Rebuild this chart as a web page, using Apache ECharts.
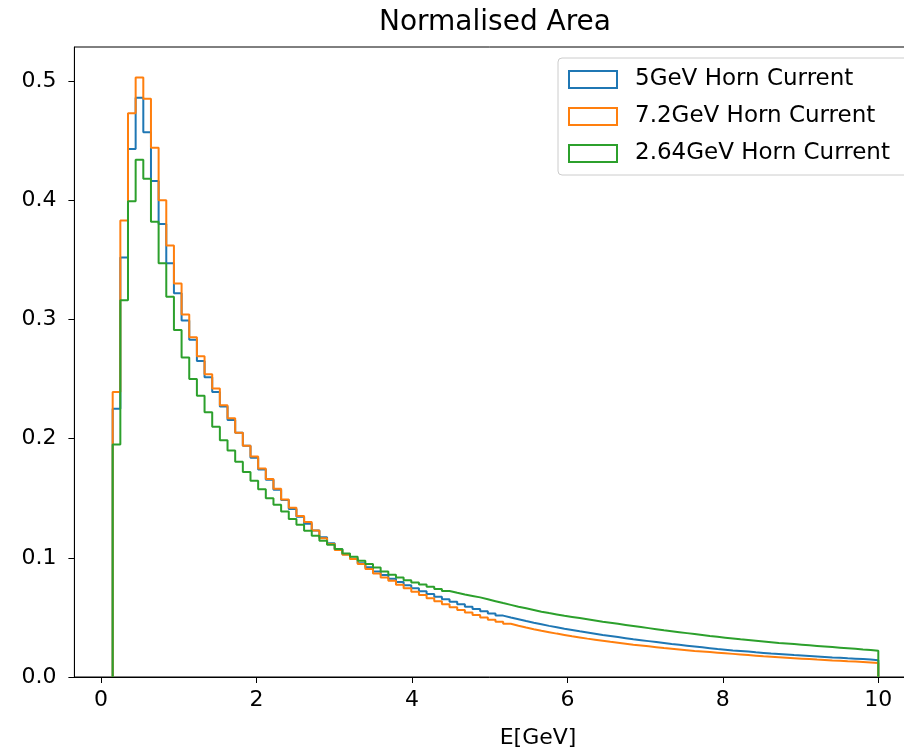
<!DOCTYPE html>
<html>
<head>
<meta charset="utf-8">
<script src="https://cdn.jsdelivr.net/npm/echarts@6/dist/echarts.min.js"></script>
<style>
  html, body { margin: 0; padding: 0; background: #fff; }
  #chart { width: 904px; height: 753px; }
</style>
</head>
<body>
<div id="chart"></div>
<script>
// Histogram binning (100 equal bins between first and last edge)
const binStart = 0.15;
const binEnd = 10.0;

const seriesNames = ["5GeV Horn Current", "7.2GeV Horn Current", "2.64GeV Horn Current"];
const seriesColors = ["#1f77b4", "#ff7f0e", "#2ca02c"];

const values5GeV = [
  0.225, 0.352, 0.443, 0.486, 0.457, 0.416, 0.380, 0.347, 0.322, 0.299,
  0.283, 0.265, 0.2515, 0.239, 0.227, 0.2155, 0.205, 0.194, 0.184, 0.174,
  0.1655, 0.157, 0.1485, 0.1410, 0.1345, 0.1285, 0.1228, 0.1172, 0.1122, 0.1072,
  0.1030, 0.0992, 0.0955, 0.0920, 0.0885, 0.0855, 0.0825, 0.0797, 0.0770, 0.0745,
  0.0720, 0.0697, 0.0674, 0.0652, 0.0631, 0.0610, 0.0590, 0.0570, 0.0551, 0.0533,
  0.0515, 0.0499, 0.0484, 0.0469, 0.0455, 0.0442, 0.0429, 0.0417, 0.0405, 0.0394,
  0.0383, 0.0373, 0.0363, 0.0353, 0.0344, 0.0335, 0.0326, 0.0317, 0.0309, 0.0301,
  0.0293, 0.0285, 0.0277, 0.0270, 0.0263, 0.0256, 0.0249, 0.0242, 0.0235, 0.0229,
  0.0223, 0.0218, 0.0213, 0.0207, 0.0202, 0.0197, 0.0193, 0.0189, 0.0184, 0.0180,
  0.0176, 0.0172, 0.0168, 0.0164, 0.0161, 0.0157, 0.0154, 0.0150, 0.0146, 0.0141
];

const values7_2GeV = [
  0.239, 0.383, 0.473, 0.503, 0.485, 0.444, 0.400, 0.362, 0.330, 0.304,
  0.285, 0.269, 0.254, 0.242, 0.228, 0.217, 0.205, 0.194, 0.185, 0.175,
  0.166, 0.158, 0.149, 0.142, 0.135, 0.130, 0.123, 0.1165, 0.1115, 0.1065,
  0.1025, 0.0990, 0.0947, 0.0905, 0.0868, 0.0835, 0.0807, 0.0773, 0.0745, 0.0716,
  0.0688, 0.0661, 0.0635, 0.0610, 0.0586, 0.0563, 0.0541, 0.0520, 0.0500, 0.0481,
  0.0463, 0.0446, 0.0430, 0.0415, 0.0401, 0.0388, 0.0376, 0.0364, 0.0353, 0.0342,
  0.0332, 0.0322, 0.0313, 0.0304, 0.0295, 0.0287, 0.0279, 0.0271, 0.0264, 0.0257,
  0.0250, 0.0243, 0.0237, 0.0231, 0.0225, 0.0219, 0.0214, 0.0209, 0.0204, 0.0199,
  0.0194, 0.0189, 0.0184, 0.0179, 0.0174, 0.0170, 0.0166, 0.0162, 0.0158, 0.0154,
  0.0150, 0.0146, 0.0143, 0.0139, 0.0136, 0.0132, 0.0129, 0.0126, 0.0122, 0.0118
];

const values2_64GeV = [
  0.195, 0.316, 0.399, 0.434, 0.418, 0.382, 0.347, 0.319, 0.291, 0.268,
  0.250, 0.236, 0.222, 0.210, 0.1986, 0.190, 0.1805, 0.172, 0.1647, 0.1574,
  0.150, 0.1445, 0.1389, 0.1325, 0.1277, 0.1227, 0.1185, 0.1143, 0.1109, 0.1073,
  0.1036, 0.1008, 0.0975, 0.0947, 0.0919, 0.0885, 0.0857, 0.0835, 0.0812, 0.0793,
  0.0775, 0.0757, 0.0739, 0.0722, 0.0706, 0.0692, 0.0680, 0.0668, 0.0652, 0.0636,
  0.0620, 0.0605, 0.0590, 0.0576, 0.0562, 0.0548, 0.0536, 0.0525, 0.0514, 0.0504,
  0.0494, 0.0484, 0.0474, 0.0464, 0.0455, 0.0446, 0.0437, 0.0428, 0.0419, 0.0410,
  0.0401, 0.0392, 0.0384, 0.0376, 0.0368, 0.0360, 0.0352, 0.0344, 0.0337, 0.0330,
  0.0323, 0.0316, 0.0310, 0.0304, 0.0298, 0.0292, 0.0286, 0.0281, 0.0276, 0.0271,
  0.0266, 0.0261, 0.0256, 0.0251, 0.0246, 0.0241, 0.0236, 0.0231, 0.0227, 0.0220
];

const xTicks = [0, 2, 4, 6, 8, 10];
const yTicks = [0, 0.1, 0.2, 0.3, 0.4, 0.5];

const allValues = [values5GeV, values7_2GeV, values2_64GeV];

function stepData(vals) {
  const n = vals.length;
  const w = (binEnd - binStart) / n;
  const pts = [[binStart, 0]];
  for (let i = 0; i < n; i++) pts.push([binStart + i * w, vals[i]]);
  pts.push([binEnd, 0]);
  return pts;
}

const FONT = "DejaVu Sans";
const chart = echarts.init(document.getElementById('chart'), null, { renderer: 'canvas' });

const option = {
  animation: false,
  backgroundColor: '#ffffff',
  title: {
    text: 'Normalised Area',
    left: 490,
    textAlign: 'center',
    top: 4,
    textStyle: { fontFamily: FONT, fontSize: 28, fontWeight: 'normal', color: '#000' }
  },
  legend: {
    orient: 'vertical',
    left: 558,
    top: 58,
    padding: [10, 30, 10, 10],
    itemGap: 14,
    itemWidth: 48,
    itemHeight: 17,
    backgroundColor: 'rgba(255,255,255,0.8)',
    borderColor: '#cccccc',
    borderWidth: 1,
    borderRadius: 4,
    textStyle: { fontFamily: FONT, fontSize: 23, color: '#000', padding: [0, 0, 0, 13] },
    data: seriesNames.map((n, i) => ({
      name: n,
      icon: 'rect',
      itemStyle: { color: 'rgba(0,0,0,0)', borderColor: seriesColors[i], borderWidth: 2 }
    }))
  },
  grid: { left: 74.4, width: 842.2, top: 47, bottom: 76, show: true, borderColor: '#000', borderWidth: 1,
          outerBoundsMode: 'none', containLabel: false },
  xAxis: {
    type: 'value',
    min: -0.3425,
    max: 10.4925,
    name: 'E[GeV]',
    nameLocation: 'middle',
    nameGap: 50,
    nameTextStyle: { fontFamily: FONT, fontSize: 22, color: '#000', padding: [0, 0, 0, 85] },
    splitLine: { show: false },
    axisLine: { show: true, onZero: false, lineStyle: { color: '#000', width: 1 } },
    axisTick: { show: true, customValues: xTicks, length: 6, inside: false, lineStyle: { color: '#000' } },
    axisLabel: { customValues: xTicks, fontFamily: FONT, fontSize: 22, color: '#000', margin: 12,
                 formatter: v => String(Math.round(v)) }
  },
  yAxis: {
    type: 'value',
    min: 0,
    max: 0.5285,
    splitLine: { show: false },
    axisLine: { show: true, onZero: false, lineStyle: { color: '#000', width: 1 } },
    axisTick: { show: true, customValues: yTicks, length: 6, inside: false, lineStyle: { color: '#000' } },
    axisLabel: { customValues: yTicks, fontFamily: FONT, fontSize: 22, color: '#000', margin: 18,
                 formatter: v => v.toFixed(1) }
  },
  series: seriesNames.map((n, i) => ({
    name: n,
    type: 'line',
    step: 'end',
    showSymbol: false,
    symbol: 'none',
    clip: true,
    lineStyle: { color: seriesColors[i], width: 2 },
    itemStyle: { color: seriesColors[i] },
    data: stepData(allValues[i]),
    z: 2 + i
  }))
};

chart.setOption(option);
</script>
</body>
</html>
